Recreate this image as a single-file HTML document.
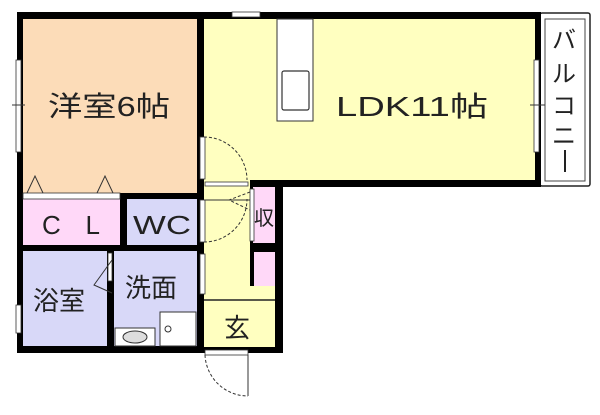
<!DOCTYPE html>
<html><head><meta charset="utf-8"><style>
body{margin:0;background:#fff;}
svg text{font-family:"Liberation Sans","Noto Sans CJK JP",sans-serif;fill:#222;}
</style></head><body>
<svg width="600" height="410" viewBox="0 0 600 410" xmlns="http://www.w3.org/2000/svg">
<rect width="600" height="410" fill="#fff"/>
<rect x="540" y="13" width="50" height="173" fill="#fff" stroke="#222" stroke-width="1.5" rx="2"/>
<rect x="545" y="19" width="40" height="162" fill="none" stroke="#444" stroke-width="1"/>
<rect x="17" y="12" width="524" height="175" fill="#000"/>
<rect x="17" y="180" width="266" height="173" fill="#000"/>
<rect x="23" y="19" width="174" height="174" fill="#fcdcb8"/>
<rect x="204" y="19" width="331" height="161" fill="#ffffc0"/>
<rect x="204" y="180" width="46" height="167" fill="#ffffc0"/>
<rect x="204" y="286" width="71" height="61" fill="#ffffc0"/>
<rect x="23" y="199" width="97" height="46" fill="#ffd8f8"/>
<rect x="127" y="199" width="70" height="46" fill="#d8d8f8"/>
<rect x="23" y="251" width="84" height="95" fill="#d8d8f8"/>
<rect x="114" y="251" width="83" height="95" fill="#d8d8f8"/>
<rect x="253" y="187" width="22" height="56" fill="#ffd8f8"/>
<rect x="254" y="252" width="21" height="34" fill="#ffd8f8"/>
<line x1="204" y1="300" x2="275" y2="300" stroke="#222" stroke-width="1.5"/>
<rect x="277" y="19" width="36" height="102" fill="#fff" stroke="#333" stroke-width="1"/>
<rect x="282" y="71" width="27" height="39" fill="#fff" stroke="#333" stroke-width="1.2" rx="2"/>
<rect x="160" y="312" width="36" height="34" fill="#fff" stroke="#333" stroke-width="1"/>
<circle cx="168" cy="329" r="3" fill="none" stroke="#333"/>
<rect x="115" y="328" width="40" height="18" fill="#fff" stroke="#333" stroke-width="1"/>
<ellipse cx="135" cy="337" rx="12" ry="6" fill="#ddd" stroke="#333" stroke-width="1"/>
<rect x="232" y="12" width="28" height="5" fill="#fff" stroke="#333" stroke-width="0.8"/>
<rect x="16" y="60" width="5" height="92" fill="#fff" stroke="#333" stroke-width="0.8"/>
<line x1="12" y1="105" x2="25" y2="105" stroke="#333"/>
<rect x="16" y="305" width="5" height="28" fill="#fff" stroke="#333" stroke-width="0.8"/>
<rect x="534" y="60" width="5" height="92" fill="#fff" stroke="#333" stroke-width="0.8"/>
<line x1="530" y1="105" x2="545" y2="105" stroke="#333"/>
<rect x="200" y="137" width="5" height="42" fill="#fff" stroke="#333" stroke-width="0.8"/>
<rect x="205" y="182" width="43" height="4" fill="#fff" stroke="#333" stroke-width="0.8"/>
<path d="M204 137 A43 43 0 0 1 247 180" fill="none" stroke="#333" stroke-dasharray="3,2"/>
<rect x="200" y="200" width="5" height="42" fill="#fff" stroke="#333" stroke-width="0.8"/>
<path d="M204 242 A43 43 0 0 0 247 199" fill="none" stroke="#333" stroke-dasharray="3,2"/>
<line x1="204" y1="200" x2="250" y2="200" stroke="#333"/>
<rect x="250" y="189" width="4" height="52" fill="#fff" stroke="#333" stroke-width="0.8"/>
<polyline points="250,192 229,200 250,210" fill="none" stroke="#333" stroke-dasharray="3,2"/>
<rect x="200" y="254" width="5" height="40" fill="#fff" stroke="#333" stroke-width="0.8"/>
<rect x="108" y="253" width="4" height="28" fill="#fff" stroke="#333" stroke-width="0.8"/>
<polyline points="112,260 94,285 112,293" fill="none" stroke="#333"/>
<rect x="23" y="193" width="97" height="6" fill="#fff" stroke="#333" stroke-width="0.8"/>
<polyline points="27,193 35,176 43,193" fill="none" stroke="#333"/>
<polyline points="97,193 105,176 113,193" fill="none" stroke="#333"/>
<rect x="205" y="350" width="43" height="5" fill="#fff" stroke="#333" stroke-width="0.8"/>
<line x1="248" y1="355" x2="248" y2="396" stroke="#333"/>
<path d="M205 355 A43 43 0 0 0 248 396" fill="none" stroke="#333" stroke-dasharray="3,2"/>
<text x="48" y="116" font-size="28" textLength="122" lengthAdjust="spacingAndGlyphs">洋室6帖</text>
<text x="336" y="116" font-size="28" textLength="152" lengthAdjust="spacingAndGlyphs">LDK11帖</text>
<text x="42" y="234" font-size="26" textLength="58" lengthAdjust="spacing">CL</text>
<text x="133" y="234" font-size="26" textLength="58" lengthAdjust="spacingAndGlyphs">WC</text>
<text x="33" y="310" font-size="26">浴室</text>
<text x="125" y="297" font-size="26">洗面</text>
<text x="224" y="337" font-size="26">玄</text>
<text x="254" y="225" font-size="20">収</text>
<text font-size="24" x="552" y="48">バ</text>
<text font-size="24" x="552" y="82">ル</text>
<text font-size="24" x="552" y="114">コ</text>
<text font-size="24" x="552" y="144">ニ</text>
<line x1="565" y1="150" x2="565" y2="172" stroke="#222" stroke-width="2"/>
</svg>
</body></html>
